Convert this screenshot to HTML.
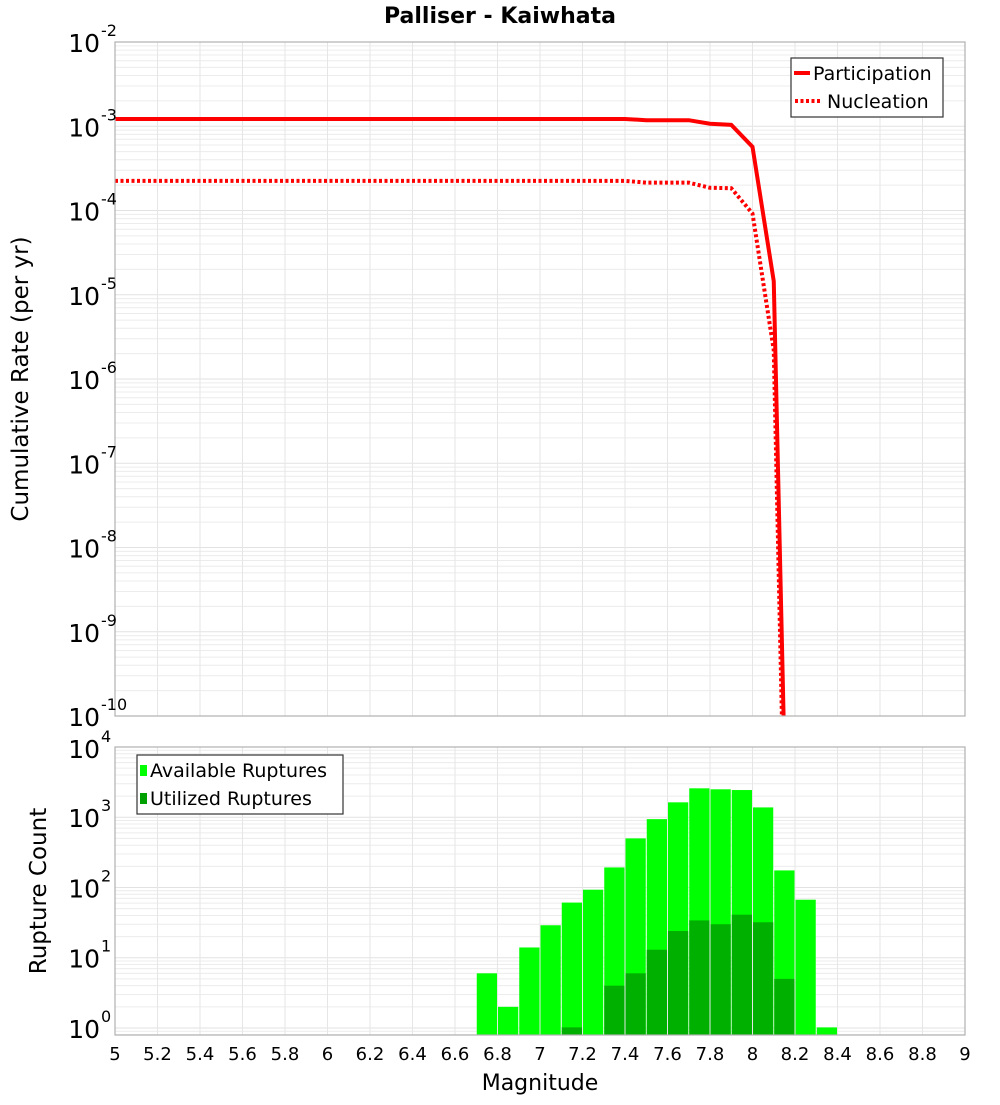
<!DOCTYPE html>
<html><head><meta charset="utf-8">
<style>
body{margin:0;background:#fff;}
svg text{font-family:"DejaVu Sans","Liberation Sans",sans-serif;}
</style></head>
<body>
<svg id="chart" width="1000" height="1100" viewBox="0 0 1000 1100" xmlns="http://www.w3.org/2000/svg">
<rect width="1000" height="1100" fill="#fff"/>
<text x="500" y="23" text-anchor="middle" font-size="22" font-weight="bold">Palliser - Kaiwhata</text>
<g id="topplot"></g>
<g id="botplot"></g>
<text transform="translate(28,379) rotate(-90)" text-anchor="middle" font-size="23">Cumulative Rate (per yr)</text>
<text transform="translate(46,891) rotate(-90)" text-anchor="middle" font-size="23">Rupture Count</text>
<text x="540" y="1090" text-anchor="middle" font-size="22">Magnitude</text>
</svg>
<script>
const lineMags = [5.0, 7.4, 7.5, 7.6, 7.7, 7.8, 7.9, 8.0, 8.1, 8.2];
const participation = [1.22e-3, 1.22e-3, 1.18e-3, 1.18e-3, 1.18e-3, 1.07e-3, 1.04e-3, 5.7e-4, 1.45e-5, 1e-16];
const nucleation = [2.25e-4, 2.25e-4, 2.14e-4, 2.14e-4, 2.14e-4, 1.86e-4, 1.84e-4, 9.2e-5, 2.2e-6, 1e-17];
const barMags = [6.75, 6.85, 6.95, 7.05, 7.15, 7.25, 7.35, 7.45, 7.55, 7.65, 7.75, 7.85, 7.95, 8.05, 8.15, 8.25, 8.35];
const available = [6, 2, 14, 29, 61, 93, 193, 500, 940, 1630, 2580, 2500, 2440, 1380, 175, 67, 1.02];
const utilized = [0, 0, 0, 0, 1.02, 0, 4, 6, 13, 24, 34, 30, 41, 32, 5, 0, 0];
const xTicks = ["5","5.2","5.4","5.6","5.8","6","6.2","6.4","6.6","6.8","7","7.2","7.4","7.6","7.8","8","8.2","8.4","8.6","8.8","9"];
const topExps = [-2,-3,-4,-5,-6,-7,-8,-9,-10];
const botExps = [4,3,2,1,0];

const NS="http://www.w3.org/2000/svg";
const L=115,R=965,T1=42,B1=716,T2=747,B2=1035;
const X=m=>L+(m-5)/4*(R-L);
const Y1=v=>T1+(-2-Math.log10(v))*(B1-T1)/8;
const Y2=v=>B2-(Math.log10(v)+0.1)*(B2-T2)/4.1;
function mk(p,tag,a){const e=document.createElementNS(NS,tag);for(const k in a)e.setAttribute(k,a[k]);p.appendChild(e);return e;}
const gTop=document.getElementById('topplot'),gBot=document.getElementById('botplot');

[[gTop,T1,B1,Y1,-10,-2],[gBot,T2,B2,Y2,0,4]].forEach(([g,t,b,Y,e0,e1],i)=>{
  const cp=mk(g,'clipPath',{id:'cp'+i});mk(cp,'rect',{x:L,y:t,width:R-L,height:b-t});
  const gg=mk(g,'g',{'clip-path':'url(#cp'+i+')'});
  
  
  for(let e=e0-1;e<=e1;e++)for(let k=1;k<10;k++){const y=Y(k*Math.pow(10,e));if(y<t||y>b)continue;
    mk(gg,'line',{x1:L,x2:R,y1:y,y2:y,stroke:k==1?'#e2e2e2':'#ececec','stroke-width':1});}
  for(let j=1;j<20;j++){const x=X(5+j*0.2);mk(gg,'line',{x1:x,x2:x,y1:t,y2:b,stroke:'#e6e6e6','stroke-width':1});}
});

function poly(vals,dash,name){
  const pts=lineMags.map((m,i)=>X(m)+','+Y1(vals[i])).join(' ');
  const p=mk(gTop,'polyline',{points:pts,fill:'none',stroke:'#ff0000','stroke-width':4,'clip-path':'url(#cp0)'});
  if(dash)p.setAttribute('stroke-dasharray','3,2.5');
  
  
}
poly(participation,false,'participation-line');
poly(nucleation,true,'nucleation-line');

const bw=(R-L)/40;
barMags.forEach((m,i)=>{
  const x=X(m)-bw/2+0.5;
  const r=mk(gBot,'rect',{x:x,y:Y2(available[i]),width:bw-1,height:B2-Y2(available[i]),fill:'#00ff00'});
  
  
  if(utilized[i]>0){
    const u=mk(gBot,'rect',{x:x,y:Y2(utilized[i]),width:bw-1,height:B2-Y2(utilized[i]),fill:'#00b000'});
    
    
  }
});

mk(gTop,'rect',{x:L,y:T1,width:R-L,height:B1-T1,fill:'none',stroke:'#b0b0b0','stroke-width':1.2});
mk(gBot,'rect',{x:L,y:T2,width:R-L,height:B2-T2,fill:'none',stroke:'#b0b0b0','stroke-width':1.2});

function ylab(g,y,e,name){
  const t=mk(g,'text',{x:100,y:y+10,'text-anchor':'end','font-size':25});
  
  
  t.textContent='10';
  const s=mk(g,'text',{x:101,y:y-6,'font-size':16});
  
  
  s.textContent=String(e);
}
topExps.forEach(e=>ylab(gTop,Y1(Math.pow(10,e)),e,'top-y-tick'));
botExps.forEach(e=>ylab(gBot,Y2(Math.pow(10,e))+(e==4?1:0),e,'bottom-y-tick'));

xTicks.forEach(s=>{
  const t=mk(gBot,'text',{x:X(parseFloat(s)),y:1060,'text-anchor':'middle','font-size':18});
  
  
  t.textContent=s;
});

const lg=mk(gTop,'g',{});


mk(lg,'rect',{x:791,y:58,width:152,height:59,fill:'#fff',stroke:'#333','stroke-width':1.2});
mk(lg,'line',{x1:794,x2:810,y1:73,y2:73,stroke:'#f00','stroke-width':4});
mk(lg,'line',{x1:795,x2:820,y1:101,y2:101,stroke:'#f00','stroke-width':4,'stroke-dasharray':'3,2.5'});
let tx=mk(lg,'text',{x:813,y:80,'font-size':19});tx.textContent='Participation';
tx=mk(lg,'text',{x:827,y:108,'font-size':19});tx.textContent='Nucleation';
const lb=mk(gBot,'g',{});


mk(lb,'rect',{x:137,y:755,width:206,height:59,fill:'#fff',stroke:'#333','stroke-width':1.2});
mk(lb,'rect',{x:140,y:765,width:7,height:11,fill:'#00ff00'});
mk(lb,'rect',{x:140,y:793,width:7,height:11,fill:'#00a000'});
tx=mk(lb,'text',{x:150,y:777,'font-size':19});tx.textContent='Available Ruptures';
tx=mk(lb,'text',{x:150,y:805,'font-size':19});tx.textContent='Utilized Ruptures';
</script>
</body></html>
